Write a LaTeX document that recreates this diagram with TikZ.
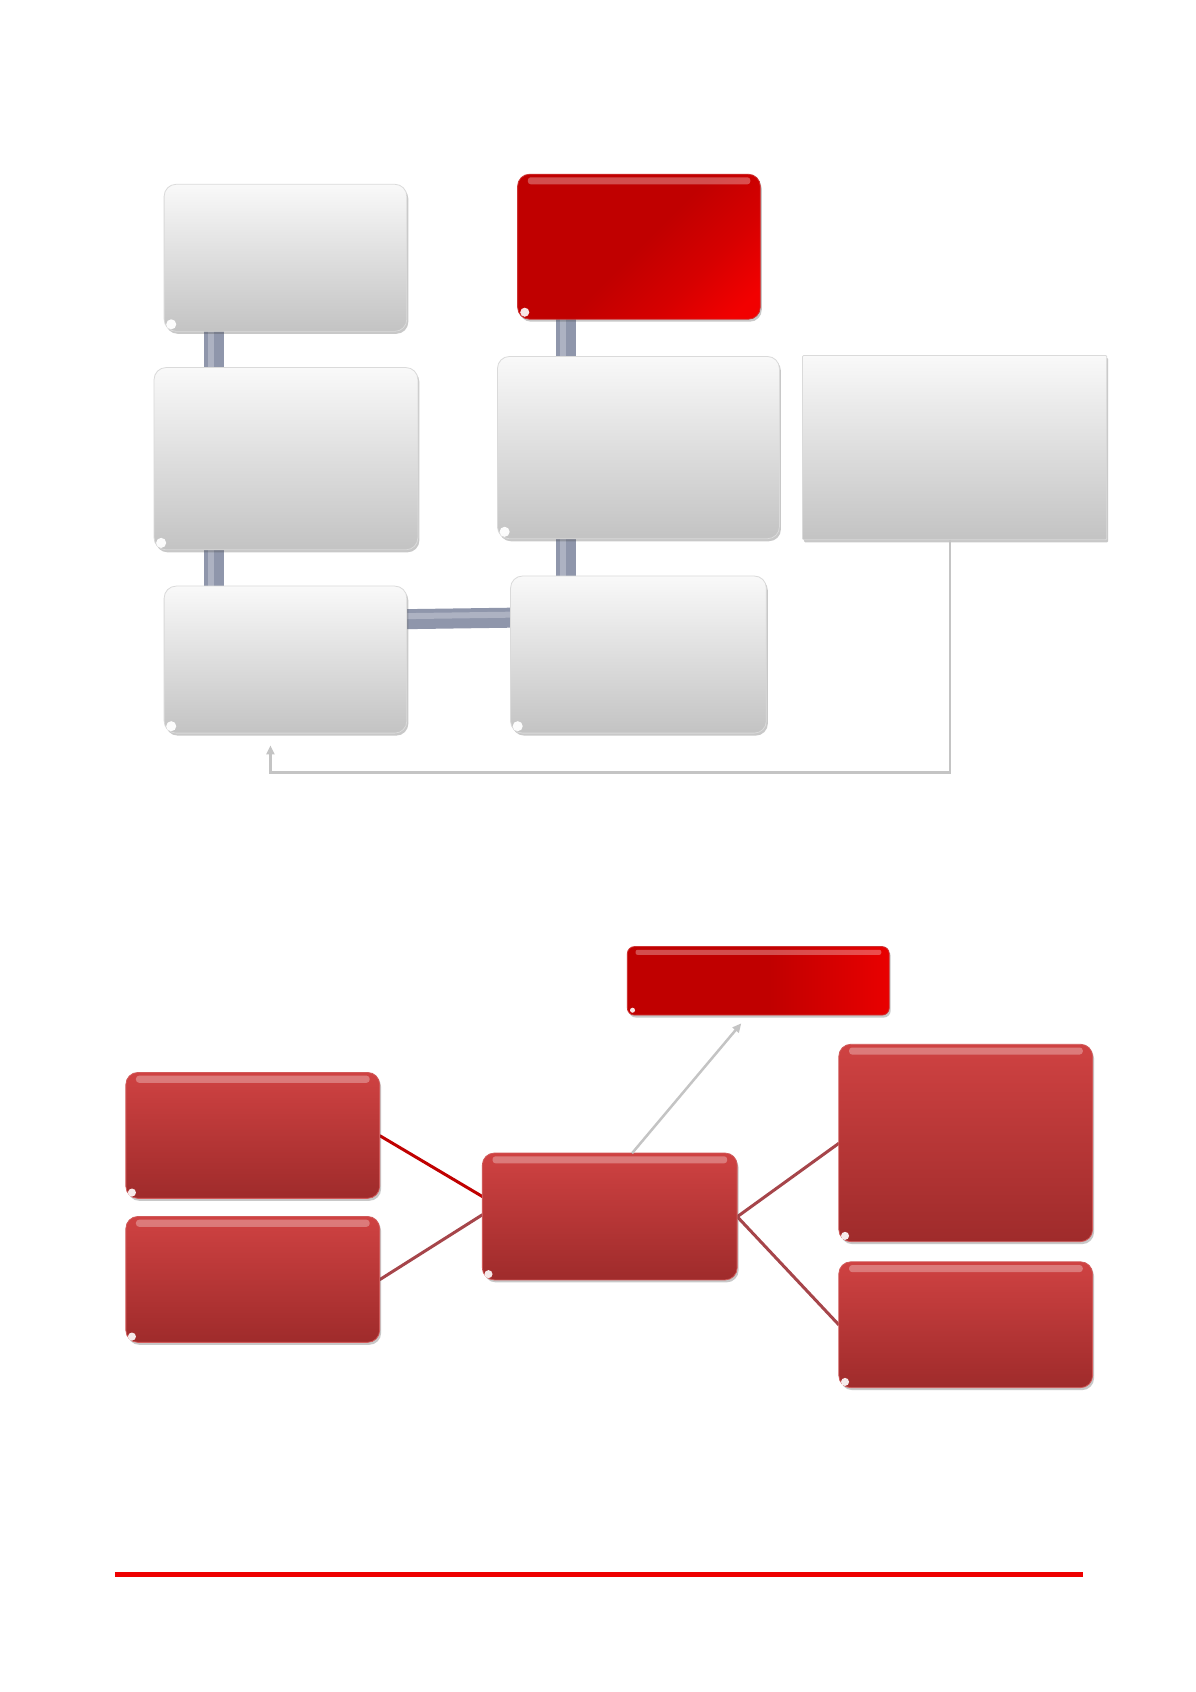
\documentclass[tikz,border=0pt]{standalone}
\usetikzlibrary{shadows,backgrounds,arrows.meta}
\definecolor{wtop}{HTML}{F9F9F9}
\definecolor{wbot}{HTML}{C3C3C3}
\definecolor{wedge}{HTML}{DADADA}
\definecolor{rtop}{HTML}{CF4242}
\definecolor{rbot}{HTML}{9F2B2B}
\definecolor{redge}{HTML}{D05A5A}
\definecolor{rdeep}{HTML}{C00000}
\definecolor{rbright}{HTML}{F20000}
\definecolor{barc}{HTML}{8F96AB}
\definecolor{barl}{HTML}{ADB2C2}
\definecolor{grayln}{HTML}{C4C4C4}
\definecolor{linkdark}{HTML}{C00000}
\definecolor{linkmid}{HTML}{A6454A}
\definecolor{rulered}{HTML}{EE0000}
\pgfdeclareverticalshading{hotshade}{100bp}{color(0bp)=(rbright); color(20bp)=(rbright); color(34bp)=(rbright!45!rdeep); color(50bp)=(rdeep); color(100bp)=(rdeep)}
\pgfdeclarehorizontalshading{hotbarshade}{100bp}{color(0bp)=(rdeep); color(25bp)=(rdeep); color(52bp)=(rdeep); color(78bp)=(rbright!92!rdeep); color(100bp)=(rbright!92!rdeep)}
\tikzset{
  boxbase/.style={inner sep=0pt, outer sep=0pt, anchor=north west, rounded corners=12pt,
    drop shadow={shadow xshift=1.5pt, shadow yshift=-2.5pt, opacity=0.3, fill=black!70}},
  sz/.style 2 args={minimum width=#1pt, minimum height=#2pt},
  whitebox/.style={boxbase, top color=wtop, bottom color=wbot, draw=wedge, line width=0.8pt},
  sqbox/.style={whitebox, rounded corners=1pt},
  redbox/.style={boxbase, top color=rtop, bottom color=rbot, draw=redge, line width=0.8pt},
  hotbox/.style={boxbase, shading=hotshade, shading angle=45, draw=rdeep!80!white, line width=0.8pt},
  hotbar/.style={boxbase, rounded corners=7pt, shading=hotbarshade, draw=rdeep!80!white, line width=0.8pt},
  barbase/.style={line width=20pt, barc},
  barhi/.style={line width=6pt, barl},
  fbarrow/.style={line width=2.5pt, grayln, -{Triangle[length=9pt,width=8pt]}},
  linkd/.style={line width=3pt, linkdark},
  linkm/.style={line width=3pt, linkmid},
  ruleline/.style={line width=5pt, rulered},
}
\newcommand\glossW[1]{%
  \fill[white,opacity=0.95] ([xshift=7pt,yshift=7pt]#1.south west) circle (5pt);}
\newcommand\glossR[1]{%
  \fill[white,opacity=0.3,rounded corners=3pt] ([xshift=10pt,yshift=-3pt]#1.north west) rectangle ([xshift=-10pt,yshift=-10pt]#1.north east);
  \fill[white,opacity=0.9] ([xshift=6pt,yshift=6pt]#1.south west) circle (4pt);}
\begin{document}
\begin{tikzpicture}[x=1pt,y=-1pt]
\useasboundingbox (0,0) rectangle (1196,1692);
\begin{scope}[on background layer]
  \fill[white] (0,0) rectangle (1196,1692);
\end{scope}
\begin{scope}[scale=1.007, transform shape]
% upper section
\node[whitebox, sz={241}{146}] (A) at (163,183) {};
\node[whitebox, sz={262}{181}] (B) at (153,365) {};
\node[whitebox, sz={241}{146}] (C) at (163,582) {};
\node[hotbox,  sz={241}{144}] (D) at (514,173) {};
\node[whitebox, sz={280}{181}] (E) at (494,354) {};
\node[whitebox, sz={254}{156}] (F) at (507,572) {};
\node[sqbox,   sz={302}{183}] (G) at (797,353) {};
\glossW{A}\glossW{B}\glossW{C}\glossW{E}\glossW{F}
\fill[white,opacity=0.3,rounded corners=3pt] ([xshift=10pt,yshift=-3pt]D.north west) rectangle ([xshift=-10pt,yshift=-10pt]D.north east);
\fill[white,opacity=0.9] ([xshift=7pt,yshift=7pt]D.south west) circle (4.5pt);
% bars behind boxes
\coordinate (ab) at ([xshift=49pt]A.south west);
\coordinate (de) at ([xshift=48pt]D.south west);
\begin{scope}[on background layer]
  \foreach \p/\q in {A/B,B/C}{
    \draw[barbase] (ab |- \p.center) -- (ab |- \q.center);
    \draw[barhi] ([xshift=-3pt]ab |- \p.center) -- ([xshift=-3pt]ab |- \q.center);}
  \foreach \p/\q in {D/E,E/F}{
    \draw[barbase] (de |- \p.center) -- (de |- \q.center);
    \draw[barhi] ([xshift=-3pt]de |- \p.center) -- ([xshift=-3pt]de |- \q.center);}
  \draw[barbase] ([xshift=-20pt,yshift=-33pt]C.north east) -- ([xshift=20pt,yshift=-41pt]F.north west);
  \draw[barhi] ([xshift=-20pt,yshift=-30pt]C.north east) -- ([xshift=20pt,yshift=-38pt]F.north west);
\end{scope}
% feedback line
\coordinate (fbs) at ([xshift=-5pt]G.south);
\coordinate (fbe) at ([xshift=-15pt,yshift=-12pt]C.south);
\draw[fbarrow] (fbs) -- ++(0,231) -| (fbe);
% lower section
\node[hotbar, sz={260}{68}]  (H) at (623,940) {};
\node[redbox, sz={252}{125}] (I) at (125,1065) {};
\node[redbox, sz={252}{125}] (J) at (125,1208) {};
\node[redbox, sz={253}{126}] (K) at (479,1145) {};
\node[redbox, sz={252}{196}] (L) at (833,1037) {};
\node[redbox, sz={252}{125}] (M) at (833,1253) {};
\glossR{I}\glossR{J}\glossR{K}\glossR{L}\glossR{M}
\fill[white,opacity=0.3,rounded corners=2pt] ([xshift=8pt,yshift=-3pt]H.north west) rectangle ([xshift=-8pt,yshift=-8pt]H.north east);
\fill[white,opacity=0.9] ([xshift=5pt,yshift=5pt]H.south west) circle (2.5pt);
\begin{scope}[on background layer]
  \draw[linkd] (I.east) -- ([yshift=20pt]K.west);
  \draw[linkm] (J.east) -- ([yshift=2pt]K.west);
  \draw[linkm] (K.east) -- (L.west);
  \draw[linkm] (K.east) -- (M.west);
\end{scope}
\draw[fbarrow] ([xshift=22pt]K.north) -- ([xshift=-17pt,yshift=-8pt]H.south);
% bottom rule
\coordinate (r1) at (114,1563);
\coordinate (r2) at (1075,1563);
\draw[ruleline] (r1) -- (r2);
\end{scope}
\end{tikzpicture}
\end{document}
